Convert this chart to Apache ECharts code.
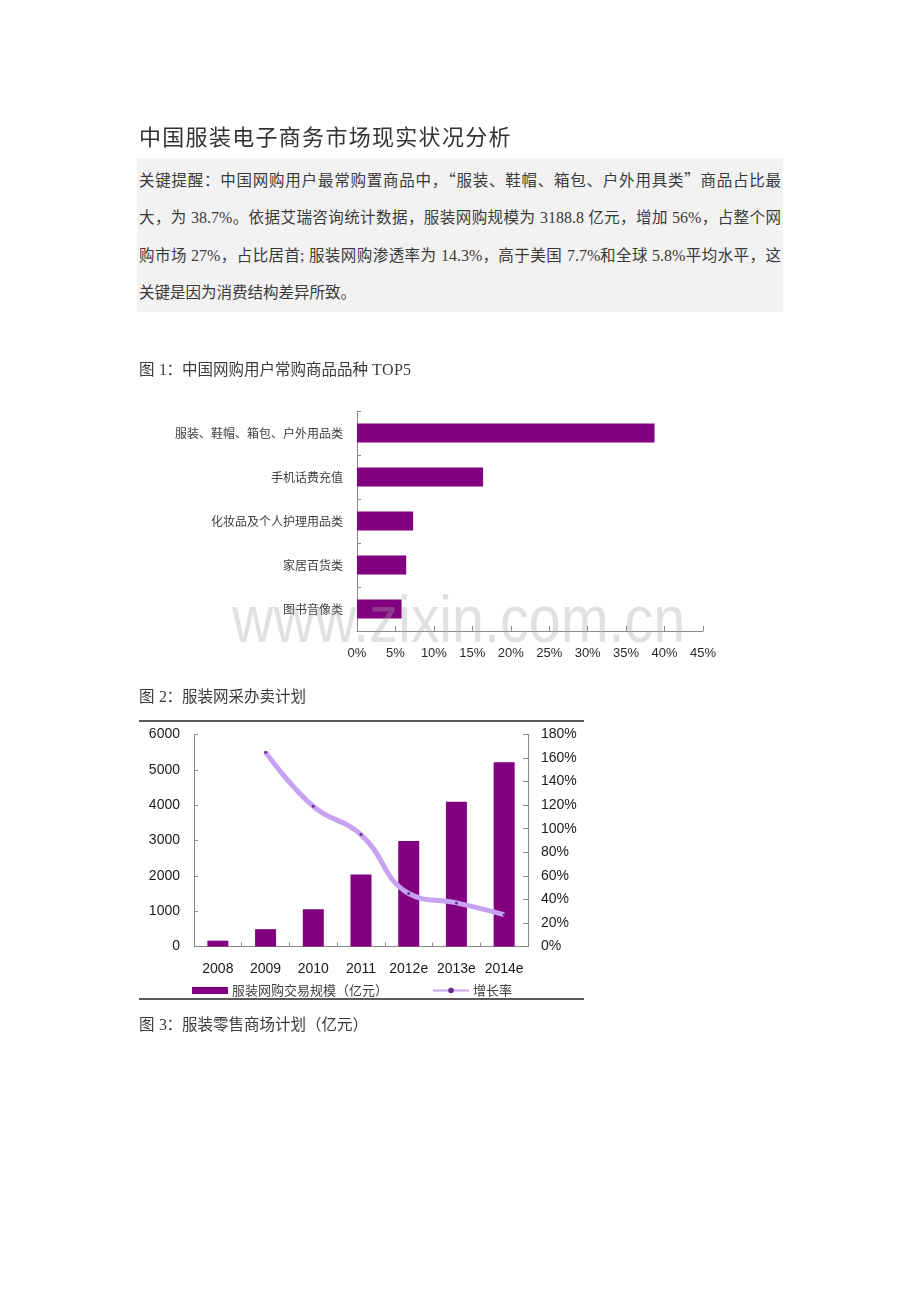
<!DOCTYPE html>
<html>
<head>
<meta charset="utf-8">
<script src="https://cdn.jsdelivr.net/npm/echarts@6/dist/echarts.min.js"></script>
<style>
@font-face { font-family: "LatinSerif"; src: local("Liberation Serif"); unicode-range: U+0020-007E; }
html, body { margin: 0; padding: 0; background: #fff; }
#page { position: relative; width: 920px; height: 1302px; overflow: hidden; background: #fff; }
#chart { position: absolute; left: 0; top: 0; width: 920px; height: 1302px; }
.t { position: absolute; white-space: nowrap; font-family: "LatinSerif", "Noto Sans CJK SC", sans-serif; color: #3a3a3a; }
#title { left: 139px; top: 122px; font-size: 22px; line-height: 26px; letter-spacing: 1.3px; color: #333; font-family: "Noto Sans CJK SC", sans-serif; }
#box { position: absolute; left: 137px; top: 158px; width: 646px; height: 154px; background: #f2f2f2; }
.line { left: 139px; width: 642px; font-size: 15.5px; line-height: 22px; text-align: justify; text-align-last: justify; }
.cap { left: 139px; font-size: 15.5px; line-height: 22px; }
</style>
</head>
<body>
<div id="page">
  <div id="chart"></div>
  <div id="box"></div>
  <div class="t" id="title">中国服装电子商务市场现实状况分析</div>
  <div class="t line" style="top:170px">关键提醒：中国网购用户最常购置商品中，“服装、鞋帽、箱包、户外用具类”商品占比最</div>
  <div class="t line" style="top:207px">大，为 38.7%。依据艾瑞咨询统计数据，服装网购规模为 3188.8 亿元，增加 56%，占整个网</div>
  <div class="t line" style="top:245px">购市场 27%，占比居首; 服装网购渗透率为 14.3%，高于美国 7.7%和全球 5.8%平均水平，这</div>
  <div class="t line" style="top:282px;text-align-last:left">关键是因为消费结构差异所致。</div>
  <div class="t cap" style="top:359px">图 1：中国网购用户常购商品品种 TOP5</div>
  <div class="t cap" style="top:686px">图 2：服装网采办卖计划</div>
  <div class="t cap" style="top:1014px">图 3：服装零售商场计划（亿元）</div>
</div>
<script>
// Figure 1 data
const categories1 = ['服装、鞋帽、箱包、户外用品类', '手机话费充值', '化妆品及个人护理用品类', '家居百货类', '图书音像类'];
const shares1 = [38.7, 16.4, 7.3, 6.4, 5.8];
// Figure 2 data
const years2 = ['2008', '2009', '2010', '2011', '2012e', '2013e', '2014e'];
const scale2 = [165, 490, 1055, 2035, 2985, 4095, 5215];
const growth2 = ['-', 165, 119, 95, 45, 37, 27];
const seriesNames2 = ['服装网购交易规模（亿元）', '增长率'];

const LATIN = "'Liberation Sans', 'Noto Sans CJK SC', sans-serif";
const CJK = "'Noto Sans CJK SC', sans-serif";
const axisColor = '#8a8a8a';

const chart = echarts.init(document.getElementById('chart'), null, { renderer: 'canvas' });
chart.setOption({
  animation: false,
  backgroundColor: 'transparent',
  grid: [
    { left: 357, top: 411, width: 346, height: 220 },
    { left: 194, top: 734.5, width: 334, height: 212 }
  ],
  xAxis: [
    {
      gridIndex: 0, type: 'value', min: 0, max: 45, interval: 5,
      axisLine: { show: true, lineStyle: { color: axisColor } },
      axisTick: { show: true, inside: true, length: 5, lineStyle: { color: axisColor } },
      splitLine: { show: false },
      axisLabel: { formatter: '{value}%', color: '#2a2a2a', fontSize: 13, fontFamily: LATIN, margin: 16 }
    },
    {
      gridIndex: 1, type: 'category', data: years2, boundaryGap: true,
      axisLine: { show: true, lineStyle: { color: axisColor } },
      axisTick: { show: true, inside: true, length: 4, interval: 0, lineStyle: { color: axisColor } },
      axisLabel: { interval: 0, color: '#1a1a1a', fontSize: 14, fontFamily: LATIN, margin: 16 }
    }
  ],
  yAxis: [
    {
      gridIndex: 0, type: 'category', data: categories1, inverse: true, boundaryGap: true,
      axisLine: { show: true, lineStyle: { color: axisColor } },
      axisTick: { show: true, inside: true, length: 4, lineStyle: { color: axisColor } },
      axisLabel: { interval: 0, color: '#404040', fontSize: 12, fontFamily: CJK, margin: 14 }
    },
    {
      gridIndex: 1, type: 'value', min: 0, max: 6000, interval: 1000,
      axisLine: { show: true, lineStyle: { color: axisColor } },
      axisTick: { show: true, inside: true, length: 4, lineStyle: { color: axisColor } },
      splitLine: { show: false },
      axisLabel: { formatter: function (v) { return String(v); }, color: '#1a1a1a', fontSize: 14, fontFamily: LATIN, margin: 14 }
    },
    {
      gridIndex: 1, type: 'value', position: 'right', min: 0, max: 180, interval: 20,
      axisLine: { show: true, lineStyle: { color: axisColor } },
      axisTick: { show: true, inside: true, length: 5, lineStyle: { color: axisColor } },
      splitLine: { show: false },
      axisLabel: { formatter: '{value}%', color: '#1a1a1a', fontSize: 14, fontFamily: LATIN, margin: 13 }
    }
  ],
  legend: {
    left: 187, top: 979, itemGap: 44, itemWidth: 36, itemHeight: 7,
    textStyle: { color: '#404040', fontSize: 13, fontFamily: CJK, padding: [0, 0, 0, -1] },
    data: [
      { name: seriesNames2[0], icon: 'rect' },
      { name: seriesNames2[1] }
    ]
  },
  series: [
    {
      type: 'bar', xAxisIndex: 0, yAxisIndex: 0, data: shares1,
      barWidth: 19, itemStyle: { color: '#800080' }, silent: true
    },
    {
      name: seriesNames2[0], type: 'bar', xAxisIndex: 1, yAxisIndex: 1, data: scale2,
      barWidth: 21, itemStyle: { color: '#800080' }
    },
    {
      name: seriesNames2[1], type: 'line', xAxisIndex: 1, yAxisIndex: 2, data: growth2,
      smooth: 0.45, symbol: 'circle', symbolSize: 3, showSymbol: true,
      lineStyle: { color: '#C7A2F2', width: 5 },
      itemStyle: { color: '#6a2a8a', borderWidth: 0 }, z: 5
    }
  ],
  graphic: [
    { type: 'line', shape: { x1: 139, y1: 721, x2: 584, y2: 721 }, style: { stroke: '#5a5a5a', lineWidth: 2 } },
    { type: 'line', shape: { x1: 139, y1: 999, x2: 584, y2: 999 }, style: { stroke: '#5a5a5a', lineWidth: 2 } },
    {
      type: 'text', x: 232, y: 657, scaleX: 0.87, z: 100, silent: true,
      style: { text: 'www.zixin.com.cn', font: "66px 'Liberation Sans', sans-serif", fill: 'rgba(170,170,170,0.35)', textVerticalAlign: 'bottom', verticalAlign: 'bottom' }
    }
  ]
});
</script>
</body>
</html>
